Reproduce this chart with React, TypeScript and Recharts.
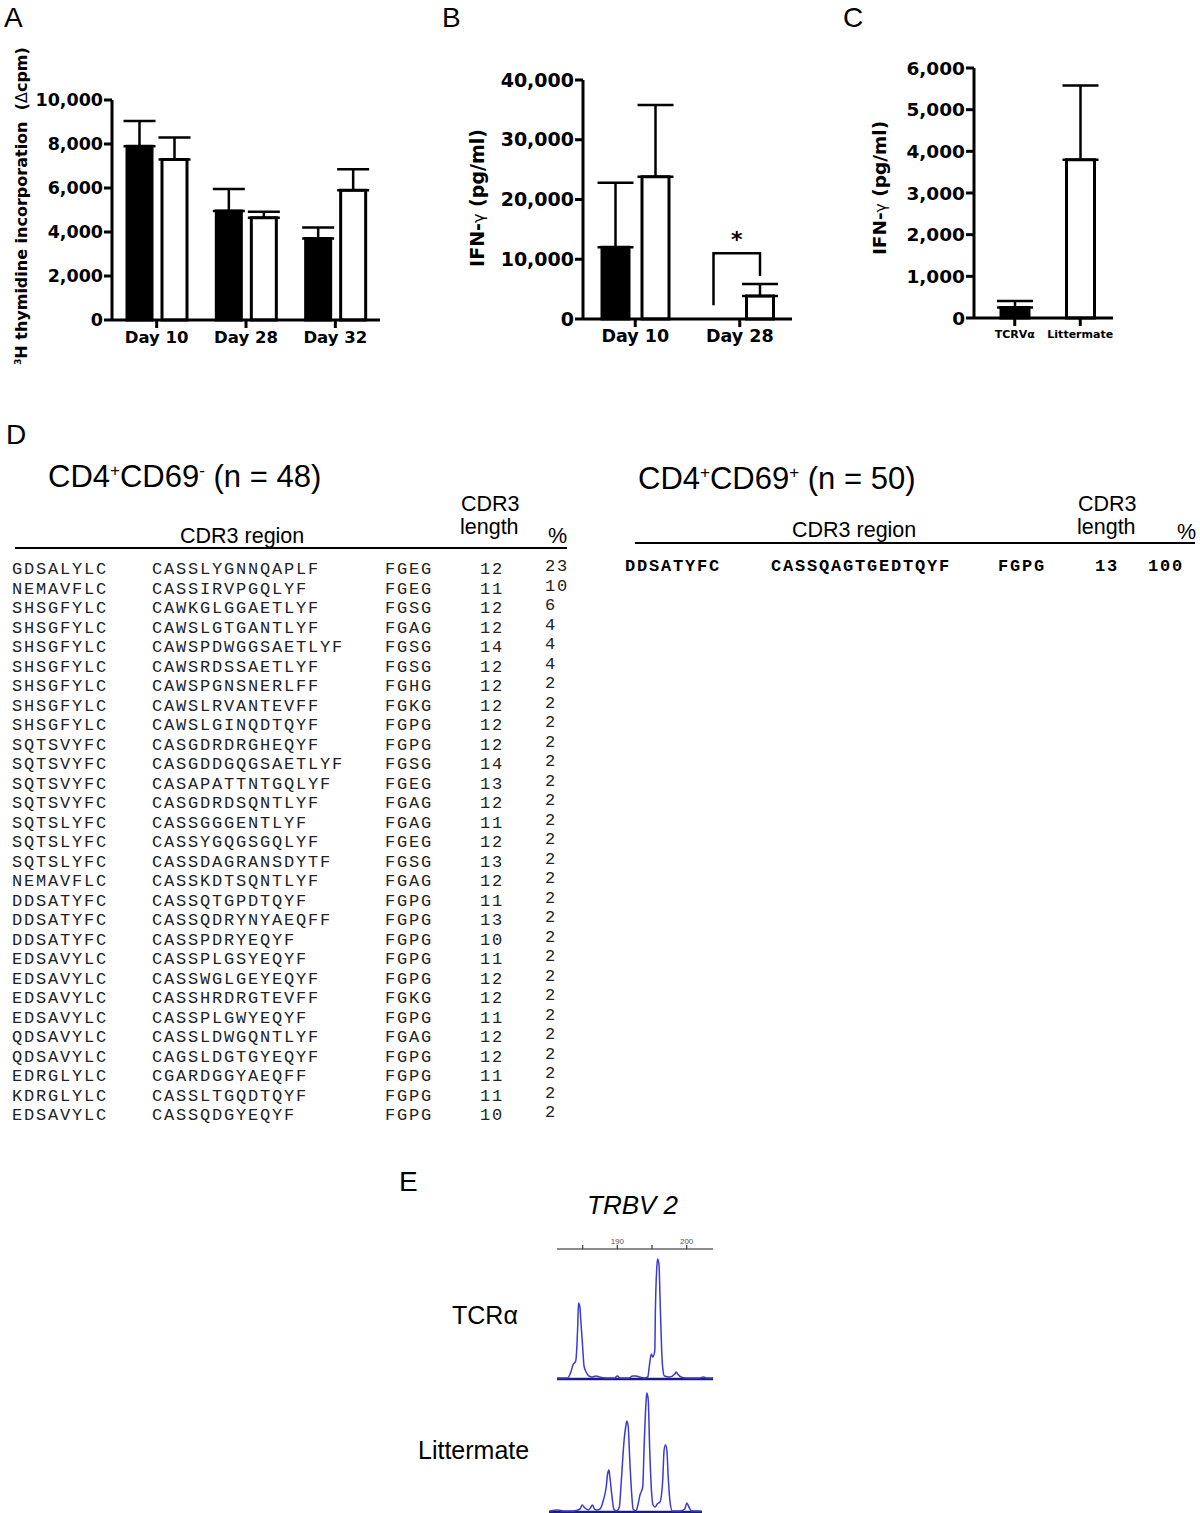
import {
  BarChart,
  Bar,
  XAxis,
  YAxis,
  ErrorBar,
  Cell,
  Rectangle,
  LineChart,
  Line,
  ReferenceLine,
} from 'recharts';

const BOLD = '"DejaVu Sans", "Liberation Sans", sans-serif';
const HELV = '"Liberation Sans", Arial, Helvetica, sans-serif';
const MONO = '"Liberation Mono", "Courier New", monospace';

// A - 3H thymidine incorporation (delta cpm)
const prolifDays = ['Day 10', 'Day 28', 'Day 32'];
const prolifTcr = [7900, 4950, 3700];
const prolifTcrSem = [1150, 1000, 500];
const prolifLit = [7300, 4650, 5900];
const prolifLitSem = [1000, 270, 950];
const prolifTicks = [0, 2000, 4000, 6000, 8000, 10000];

// B - IFN-g by day
const ifnDays = ['Day 10', 'Day 28'];
const ifnTcr: (number | null)[] = [12000, null];
const ifnTcrSem: (number | null)[] = [10800, null];
const ifnLit = [23800, 3850];
const ifnLitSem = [12000, 2000];
const ifnTicks = [0, 10000, 20000, 30000, 40000];
// significance bracket in pg/ml: left foot, top, right foot, star
const ifnSig: (number[] | null)[] = [null, [2300, 11000, 7200, 13300]];

// C - IFN-g TCRVa vs littermate
const cGroups = ['TCRVα', 'Littermate'];
const cIfn = [250, 3800];
const cIfnSem = [160, 1780];
const cTicks = [0, 1000, 2000, 3000, 4000, 5000, 6000];

// D - CDR3 sequences, CD4+CD69-
const vNeg = [
  'GDSALYLC', 'NEMAVFLC', 'SHSGFYLC', 'SHSGFYLC', 'SHSGFYLC', 'SHSGFYLC', 'SHSGFYLC', 'SHSGFYLC',
  'SHSGFYLC', 'SQTSVYFC', 'SQTSVYFC', 'SQTSVYFC', 'SQTSVYFC', 'SQTSLYFC', 'SQTSLYFC', 'SQTSLYFC',
  'NEMAVFLC', 'DDSATYFC', 'DDSATYFC', 'DDSATYFC', 'EDSAVYLC', 'EDSAVYLC', 'EDSAVYLC', 'EDSAVYLC',
  'QDSAVYLC', 'QDSAVYLC', 'EDRGLYLC', 'KDRGLYLC', 'EDSAVYLC',
];
const cdr3Neg = [
  'CASSLYGNNQAPLF', 'CASSIRVPGQLYF', 'CAWKGLGGAETLYF', 'CAWSLGTGANTLYF', 'CAWSPDWGGSAETLYF',
  'CAWSRDSSAETLYF', 'CAWSPGNSNERLFF', 'CAWSLRVANTEVFF', 'CAWSLGINQDTQYF', 'CASGDRDRGHEQYF',
  'CASGDDGQGSAETLYF', 'CASAPATTNTGQLYF', 'CASGDRDSQNTLYF', 'CASSGGGENTLYF', 'CASSYGQGSGQLYF',
  'CASSDAGRANSDYTF', 'CASSKDTSQNTLYF', 'CASSQTGPDTQYF', 'CASSQDRYNYAEQFF', 'CASSPDRYEQYF',
  'CASSPLGSYEQYF', 'CASSWGLGEYEQYF', 'CASSHRDRGTEVFF', 'CASSPLGWYEQYF', 'CASSLDWGQNTLYF',
  'CAGSLDGTGYEQYF', 'CGARDGGYAEQFF', 'CASSLTGQDTQYF', 'CASSQDGYEQYF',
];
const jNeg = [
  'FGEG', 'FGEG', 'FGSG', 'FGAG', 'FGSG', 'FGSG', 'FGHG', 'FGKG', 'FGPG', 'FGPG',
  'FGSG', 'FGEG', 'FGAG', 'FGAG', 'FGEG', 'FGSG', 'FGAG', 'FGPG', 'FGPG', 'FGPG',
  'FGPG', 'FGPG', 'FGKG', 'FGPG', 'FGAG', 'FGPG', 'FGPG', 'FGPG', 'FGPG',
];
const lenNeg = [
  12, 11, 12, 12, 14, 12, 12, 12, 12, 12, 14, 13, 12, 11, 12, 13, 12, 11, 13, 10, 11, 12, 12, 11, 12, 12,
  11, 11, 10,
];
const pctNeg = [23, 10, 6, 4, 4, 4, 2, 2, 2, 2, 2, 2, 2, 2, 2, 2, 2, 2, 2, 2, 2, 2, 2, 2, 2, 2, 2, 2, 2];

// D - CD4+CD69+
const vPos = ['DDSATYFC'];
const cdr3Pos = ['CASSQAGTGEDTQYF'];
const jPos = ['FGPG'];
const lenPos = [13];
const pctPos = [100];

// E - TRBV2 spectratype, size (bp) vs fluorescence
const tcraBp = [
  181.3, 182.8, 183.3, 183.6, 184.0, 184.3, 184.4, 184.6, 184.7, 185.0, 185.2, 185.5, 185.9, 186.4,
  186.9, 187.4, 188.4, 189.6, 190.0, 190.4, 191.7, 192.2, 192.7, 193.2, 193.9, 194.4, 194.6, 194.9,
  195.1, 195.4, 195.5, 195.7, 195.8, 196.0, 196.2, 196.4, 196.6, 196.8, 197.5, 198.3, 198.5, 198.7,
  199.2, 199.9, 201.9, 202.4, 202.9, 203.8,
];
const tcraRfu = [
  1, 1, 7, 14, 18, 55, 76, 72, 62, 32, 13, 7, 3, 2, 3, 2, 1, 1, 3, 1, 1, 3, 3, 2, 1, 2, 12, 25, 22, 28,
  72, 112, 120, 115, 72, 28, 8, 3, 2, 5, 7, 5, 2, 1, 1, 2, 1, 1,
];
const litBp = [
  180.1, 181.3, 182.1, 183.5, 184.5, 184.8, 185.2, 185.7, 186.0, 186.3, 186.6, 186.9, 187.4, 187.9,
  188.3, 188.5, 188.7, 188.8, 189.1, 189.4, 189.8, 190.2, 190.5, 190.9, 191.2, 191.3, 191.5, 191.7,
  192.0, 192.2, 192.6, 192.9, 193.2, 193.6, 193.8, 194.1, 194.2, 194.4, 194.6, 194.9, 195.1, 195.4,
  195.7, 196.1, 196.5, 196.7, 196.9, 197.1, 197.3, 197.6, 197.9, 199.0, 199.7, 200.0, 200.3, 200.7,
  202.1,
];
const litRfu = [
  1, 2, 1, 1, 3, 7, 4, 2, 4, 7, 3, 2, 3, 12, 25, 38, 42, 37, 18, 3, 1, 5, 32, 72, 88, 91, 85, 55, 18, 3,
  1, 7, 17, 25, 65, 112, 119, 112, 65, 18, 7, 5, 8, 10, 32, 62, 67, 62, 35, 8, 1, 1, 3, 9, 5, 1, 1,
];
const sizeTicks = [185, 190, 195, 200];

const ax = { stroke: '#000', strokeWidth: 3 };
const fmt = (v: number) => v.toLocaleString('en-US');
const boldTick = (size: number) => ({
  fontFamily: BOLD,
  fontWeight: 700,
  fontSize: size,
  fill: '#000',
});
const errPair = (v: number | null) => (v == null ? null : [0, v]);

function RotLabel({ cx, cy, size, children }: any) {
  return (
    <div
      style={{
        position: 'absolute',
        left: cx,
        top: cy,
        transform: 'translate(-50%, -50%) rotate(-90deg)',
        whiteSpace: 'pre',
        fontFamily: BOLD,
        fontWeight: 700,
        fontSize: size,
        lineHeight: 1,
      }}
    >
      {children}
    </div>
  );
}

function Txt({ x, y, size, children, style }: any) {
  return (
    <div
      style={{
        position: 'absolute',
        left: x,
        top: y,
        fontFamily: HELV,
        fontSize: size,
        lineHeight: 1,
        whiteSpace: 'pre',
        ...style,
      }}
    >
      {children}
    </div>
  );
}

const Sup = ({ children }: any) => (
  <span style={{ fontSize: '0.55em', verticalAlign: 'super', lineHeight: 0 }}>{children}</span>
);

function PanelA() {
  const data = prolifDays.map((day, i) => ({
    day,
    tcr: prolifTcr[i],
    tcrErr: errPair(prolifTcrSem[i]),
    lit: prolifLit[i],
    litErr: errPair(prolifLitSem[i]),
  }));
  return (
    <div style={{ position: 'absolute', left: 0, top: 0 }}>
      <BarChart
        width={400}
        height={370}
        data={data}
        margin={{ top: 100, right: 20, bottom: 0, left: 0 }}
        barSize={25}
        barGap={10}
      >
        <XAxis
          dataKey="day"
          height={50}
          axisLine={ax}
          tickLine={ax}
          tickSize={8}
          tickMargin={3}
          interval={0}
          tick={boldTick(16.5)}
        />
        <YAxis
          width={112}
          domain={[0, 10000]}
          ticks={prolifTicks}
          tickFormatter={fmt}
          axisLine={ax}
          tickLine={ax}
          tickSize={8}
          tickMargin={1}
          tick={boldTick(17.5)}
        />
        <Bar dataKey="tcr" fill="#000" stroke="#000" strokeWidth={3} isAnimationActive={false}>
          <ErrorBar dataKey="tcrErr" width={16} stroke="#000" strokeWidth={2.5} />
        </Bar>
        <Bar dataKey="lit" fill="#fff" stroke="#000" strokeWidth={3} isAnimationActive={false}>
          <ErrorBar dataKey="litErr" width={16} stroke="#000" strokeWidth={2.5} />
        </Bar>
      </BarChart>
      <RotLabel cx={22} cy={206} size={16}>
        <Sup>3</Sup>H thymidine incorporation{'  '}(<span style={{ fontWeight: 400 }}>Δ</span>cpm)
      </RotLabel>
    </div>
  );
}

function LitShapeB(props: any) {
  const { x, y, width, height, payload } = props;
  const sig = payload.sig as number[] | null;
  const bar = (
    <Rectangle x={x} y={y} width={width} height={height} fill="#fff" stroke="#000" strokeWidth={3} />
  );
  if (!sig || !height) return bar;
  const base = y + height;
  const k = height / payload.lit;
  const py = (v: number) => base - v * k;
  const lx = x - 33;
  const rx = x + width / 2;
  return (
    <g>
      {bar}
      <polyline
        points={`${lx},${py(sig[0])} ${lx},${py(sig[1])} ${rx},${py(sig[1])} ${rx},${py(sig[2])}`}
        fill="none"
        stroke="#000"
        strokeWidth={2.5}
      />
      <text
        x={(lx + rx) / 2}
        y={py(sig[3])}
        textAnchor="middle"
        dominantBaseline="central"
        fontFamily={BOLD}
        fontWeight={700}
        fontSize={22}
      >
        *
      </text>
    </g>
  );
}

function PanelB() {
  const data = ifnDays.map((day, i) => ({
    day,
    tcr: ifnTcr[i],
    tcrErr: errPair(ifnTcrSem[i]),
    lit: ifnLit[i],
    litErr: errPair(ifnLitSem[i]),
    sig: ifnSig[i],
  }));
  return (
    <div style={{ position: 'absolute', left: 400, top: 0 }}>
      <BarChart
        width={420}
        height={370}
        data={data}
        margin={{ top: 80, right: 28, bottom: 0, left: 0 }}
        barSize={27}
        barGap={13}
      >
        <XAxis
          dataKey="day"
          height={51}
          axisLine={ax}
          tickLine={ax}
          tickSize={8}
          tickMargin={3}
          interval={0}
          tick={boldTick(17.5)}
        />
        <YAxis
          width={183}
          domain={[0, 40000]}
          ticks={ifnTicks}
          tickFormatter={fmt}
          axisLine={ax}
          tickLine={ax}
          tickSize={8}
          tickMargin={1}
          tick={boldTick(19)}
        />
        <Bar dataKey="tcr" fill="#000" stroke="#000" strokeWidth={3} isAnimationActive={false}>
          <ErrorBar dataKey="tcrErr" width={18} stroke="#000" strokeWidth={2.5} />
        </Bar>
        <Bar
          dataKey="lit"
          fill="#fff"
          stroke="#000"
          strokeWidth={3}
          shape={LitShapeB}
          isAnimationActive={false}
        >
          <ErrorBar dataKey="litErr" width={18} stroke="#000" strokeWidth={2.5} />
        </Bar>
      </BarChart>
      <RotLabel cx={78} cy={198} size={19}>
        IFN-<span style={{ fontWeight: 400, fontSize: '0.85em' }}>γ</span> (pg/ml)
      </RotLabel>
    </div>
  );
}

function PanelC() {
  const data = cGroups.map((group, i) => ({ group, ifn: cIfn[i], err: errPair(cIfnSem[i]) }));
  return (
    <div style={{ position: 'absolute', left: 820, top: 0 }}>
      <BarChart
        width={380}
        height={370}
        data={data}
        margin={{ top: 68, right: 87, bottom: 0, left: 0 }}
        barSize={28}
      >
        <XAxis
          dataKey="group"
          height={52}
          axisLine={ax}
          tickLine={ax}
          tickSize={8}
          tickMargin={4}
          interval={0}
          padding={{ left: 8, right: 0 }}
          tick={boldTick(11)}
        />
        <YAxis
          width={154}
          domain={[0, 6000]}
          ticks={cTicks}
          tickFormatter={fmt}
          axisLine={ax}
          tickLine={ax}
          tickSize={8}
          tickMargin={1}
          tick={boldTick(18.5)}
        />
        <Bar dataKey="ifn" stroke="#000" strokeWidth={3} isAnimationActive={false}>
          {data.map((d, i) => (
            <Cell key={d.group} fill={i === 0 ? '#000' : '#fff'} />
          ))}
          <ErrorBar dataKey="err" width={18} stroke="#000" strokeWidth={2.5} />
        </Bar>
      </BarChart>
      <RotLabel cx={60} cy={188} size={18.5}>
        IFN-<span style={{ fontWeight: 400, fontSize: '0.85em' }}>γ</span> (pg/ml)
      </RotLabel>
    </div>
  );
}

const ROW_H = 19.5;

function SeqTable({ left, top, cols, rows, bold }: any) {
  return (
    <div style={{ position: 'absolute', left, top }}>
      {rows.map((r: any[], i: number) => (
        <div key={i} style={{ position: 'relative', height: ROW_H }}>
          {r.map((cell, j) => (
            <span
              key={j}
              style={{
                position: 'absolute',
                left: cols[j],
                top: j === 4 && !bold ? -3 : 0,
                lineHeight: `${ROW_H}px`,
                fontFamily: MONO,
                fontSize: 17,
                letterSpacing: 1.8,
                fontWeight: bold ? 700 : 400,
                color: bold ? '#000' : '#222',
                whiteSpace: 'pre',
              }}
            >
              {cell}
            </span>
          ))}
        </div>
      ))}
    </div>
  );
}

function PanelD() {
  const negRows = vNeg.map((v, i) => [v, cdr3Neg[i], jNeg[i], String(lenNeg[i]), String(pctNeg[i])]);
  const posRows = vPos.map((v, i) => [v, cdr3Pos[i], jPos[i], String(lenPos[i]), String(pctPos[i])]);
  return (
    <>
      <Txt x={6} y={421} size={28}>D</Txt>
      <Txt x={48} y={461} size={31}>
        CD4<Sup>+</Sup>CD69<Sup>-</Sup> (n = 48)
      </Txt>
      <Txt x={180} y={526} size={21.5}>CDR3 region</Txt>
      <Txt x={461} y={494} size={21.5}>CDR3</Txt>
      <Txt x={460} y={517} size={21.5}>length</Txt>
      <Txt x={548} y={526} size={21.5}>%</Txt>
      <div style={{ position: 'absolute', left: 15, top: 547, width: 552, height: 2, background: '#000' }} />
      <SeqTable left={12} top={560} cols={[0, 140, 373, 468, 533]} rows={negRows} />

      <Txt x={638} y={463} size={31}>
        CD4<Sup>+</Sup>CD69<Sup>+</Sup> (n = 50)
      </Txt>
      <Txt x={792} y={520} size={21.5}>CDR3 region</Txt>
      <Txt x={1078} y={494} size={21.5}>CDR3</Txt>
      <Txt x={1077} y={517} size={21.5}>length</Txt>
      <Txt x={1177} y={522} size={21.5}>%</Txt>
      <div style={{ position: 'absolute', left: 635, top: 542, width: 560, height: 2, background: '#000' }} />
      <SeqTable left={625} top={557} cols={[0, 146, 373, 470, 523]} rows={posRows} bold />
    </>
  );
}

const traceColor = '#3b3bd0';

function PanelE() {
  const tcra = tcraBp.map((bp, i) => ({ bp, rfu: tcraRfu[i] }));
  const lit = litBp.map((bp, i) => ({ bp, rfu: litRfu[i] }));
  return (
    <>
      <Txt x={399} y={1168} size={28}>E</Txt>
      <Txt x={587} y={1192} size={26} style={{ fontStyle: 'italic' }}>TRBV 2</Txt>
      <Txt x={452} y={1303} size={25}>TCRα</Txt>
      <Txt x={418} y={1438} size={25}>Littermate</Txt>
      <div style={{ position: 'absolute', left: 540, top: 1225 }}>
        <LineChart width={190} height={160} data={tcra} margin={{ top: 4, right: 17, bottom: 6, left: 17 }}>
          <XAxis
            dataKey="bp"
            type="number"
            orientation="top"
            height={20}
            domain={[181.3, 203.8]}
            ticks={sizeTicks}
            tickFormatter={(v: number) => (v % 10 === 0 ? String(v) : '')}
            axisLine={{ stroke: '#666', strokeWidth: 1.3 }}
            tickLine={{ stroke: '#444', strokeWidth: 1.3 }}
            tickSize={4}
            tickMargin={1}
            tick={{ fontFamily: HELV, fontSize: 8, fill: '#555' }}
            allowDataOverflow
          />
          <YAxis hide domain={[0, 130]} />
          <ReferenceLine y={0} stroke="#1c1c7c" strokeWidth={2.5} />
          <Line
            dataKey="rfu"
            type="monotone"
            stroke={traceColor}
            strokeWidth={1.5}
            dot={false}
            isAnimationActive={false}
          />
        </LineChart>
      </div>
      <div style={{ position: 'absolute', left: 530, top: 1380 }}>
        <LineChart width={190} height={133} data={lit} margin={{ top: 12, right: 18, bottom: 1, left: 19 }}>
          <XAxis dataKey="bp" type="number" hide domain={[180.0, 202.2]} allowDataOverflow />
          <YAxis hide domain={[0, 120]} />
          <ReferenceLine y={0} stroke="#1c1c7c" strokeWidth={2.5} />
          <Line
            dataKey="rfu"
            type="monotone"
            stroke={traceColor}
            strokeWidth={1.5}
            dot={false}
            isAnimationActive={false}
          />
        </LineChart>
      </div>
    </>
  );
}

export default function App() {
  return (
    <div
      style={{
        position: 'absolute',
        left: 0,
        top: 0,
        width: 1200,
        height: 1513,
        background: '#fff',
        overflow: 'hidden',
        color: '#000',
      }}
    >
      <Txt x={4} y={4} size={28}>A</Txt>
      <Txt x={442} y={4} size={28}>B</Txt>
      <Txt x={843} y={4} size={28}>C</Txt>
      <PanelA />
      <PanelB />
      <PanelC />
      <PanelD />
      <PanelE />
    </div>
  );
}
